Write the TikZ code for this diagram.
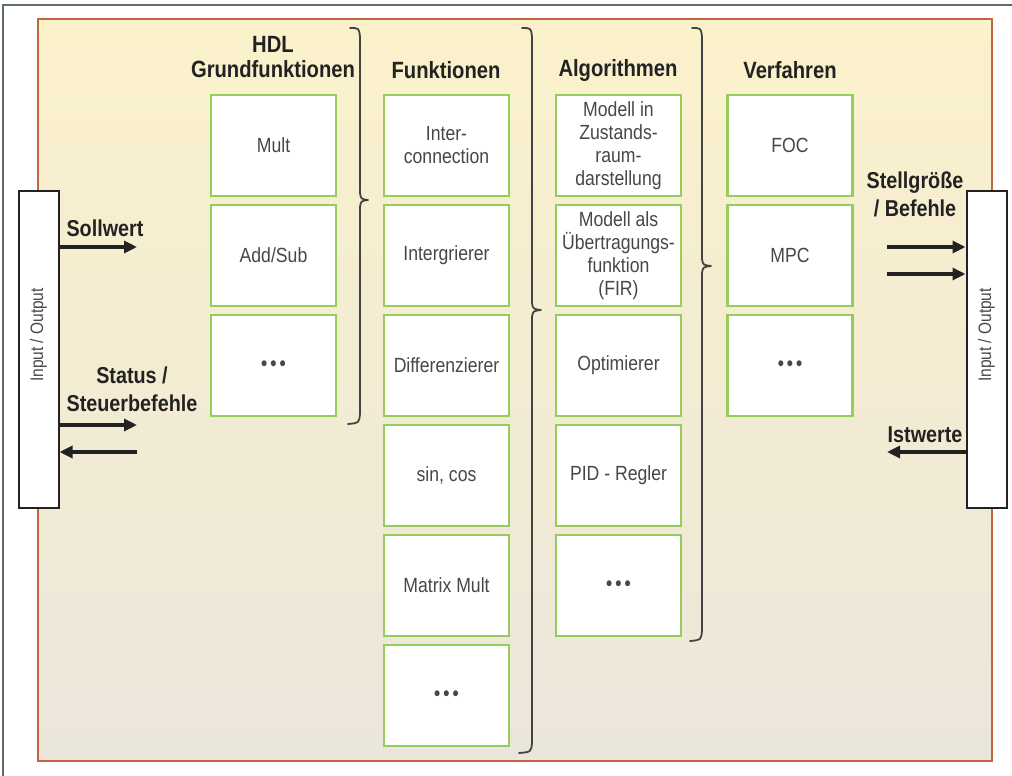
\documentclass[tikz,border=0pt]{standalone}
\usepackage{fontspec}
\setmainfont{Liberation Sans}
\newfontfamily\narrowsans[FakeStretch=0.86]{Liberation Sans}
\usetikzlibrary{arrows.meta}
\definecolor{framered}{HTML}{C2643E}
\definecolor{boxgreen}{HTML}{96CC5C}
\definecolor{bgtop}{HTML}{FBF1CB}
\definecolor{bgbottom}{HTML}{EBE6DB}
\definecolor{edgegray}{HTML}{5E6C72}
\definecolor{ink}{HTML}{222222}
\definecolor{boxink}{HTML}{474747}
\tikzset{
  cell/.style={draw=boxgreen, line width=2.2pt, fill=white, minimum width=125pt,
    minimum height=101pt, inner sep=0pt, align=center, text=boxink,
    font=\narrowsans\fontsize{20.5}{23}\selectfont},
  heading/.style={align=center, text=ink, font=\narrowsans\fontsize{23.5}{25}\selectfont\bfseries},
  iobox/.style={draw=ink, line width=2pt, fill=white, minimum width=40pt,
    minimum height=317pt, inner sep=0pt},
  iotext/.style={rotate=90, text=boxink, font=\narrowsans\fontsize{18}{20}\selectfont},
  sig/.style={line width=3.2pt, draw=ink, -{Triangle[length=13pt,width=12pt]}},
  siglabel/.style={align=center, text=ink, font=\narrowsans\fontsize{23}{28}\selectfont\bfseries},
  bracket/.style={draw=ink!85, line width=1.8pt, line cap=round, line join=round}
}
\newcommand{\threedots}{\textbf{•\hspace{3pt}•\hspace{3pt}•}}
\begin{document}
\begin{tikzpicture}[x=1pt, y=-1pt]
  \useasboundingbox (0,0) rectangle (1012,776);
  \fill[white] (0,0) rectangle (1012,776);
  % outer thin edge lines
  \draw[edgegray, line width=1.5pt] (3,776) -- (3,5) -- (1012,5);
  % framed background
  \shade[top color=bgtop, bottom color=bgbottom] (38,19) rectangle (992,761);
  \draw[framered, line width=2.4pt] (38,19) rectangle (992,761);

  % column headings
  \node[heading] (hHDL) at (273,57) {HDL\\Grundfunktionen};
  \node[heading] (hFun) at (446,70) {Funktionen};
  \node[heading] (hAlg) at (618,70) {Algorithmen};
  \node[heading] (hVer) at (790,70) {Verfahren};

  % HDL basic functions
  \node[cell] (m1) at (273.5,145.5) {Mult};
  \node[cell] (m2) at (273.5,255.5) {Add/Sub};
  \node[cell] (m3) at (273.5,365.5) {\threedots};

  % functions
  \node[cell] (f1) at (446.5,145.5) {Inter-\\connection};
  \node[cell] (f2) at (446.5,255.5) {Intergrierer};
  \node[cell] (f3) at (446.5,365.5) {Differenzierer};
  \node[cell] (f4) at (446.5,475.5) {sin, cos};
  \node[cell] (f5) at (446.5,585.5) {Matrix Mult};
  \node[cell] (f6) at (446.5,695.5) {\threedots};

  % algorithms
  \node[cell] (a1) at (618.5,145.5) {Modell in\\Zustands-\\raum-\\darstellung};
  \node[cell] (a2) at (618.5,255.5) {Modell als\\Übertragungs-\\funktion\\(FIR)};
  \node[cell] (a3) at (618.5,365.5) {Optimierer};
  \node[cell] (a4) at (618.5,475.5) {PID - Regler};
  \node[cell] (a5) at (618.5,585.5) {\threedots};

  % methods
  \node[cell] (v1) at (790,145.5) {FOC};
  \node[cell] (v2) at (790,255.5) {MPC};
  \node[cell] (v3) at (790,365.5) {\threedots};

  % grouping braces
  \draw[bracket] (350,28) .. controls (359,28) .. (360,37) -- (360,193)
    .. controls (361,199) .. (368,200) .. controls (361,201) .. (360,207)
    -- (360,414) .. controls (359,423) .. (348,424);
  \draw[bracket] (522,28) .. controls (531,28) .. (532,37) -- (532,303)
    .. controls (533,309) .. (541,310) .. controls (533,311) .. (532,317)
    -- (532,743) .. controls (531,752) .. (519,753);
  \draw[bracket] (692,28) .. controls (701,28) .. (702,37) -- (702,259)
    .. controls (703,265) .. (711,266) .. controls (703,267) .. (702,273)
    -- (702,631) .. controls (701,640) .. (690,641);

  % input / output blocks
  \node[iobox] (ioL) at (38.5,349) {};
  \node[iotext] at ([yshift=14pt]ioL.center) {Input / Output};
  \node[iobox] (ioR) at (986.5,349) {};
  \node[iotext] at ([yshift=14pt]ioR.center) {Input / Output};

  % left signals
  \coordinate (solE) at (137,247);
  \coordinate (stOut) at (137,425);
  \coordinate (stIn) at (137,452);
  \draw[sig] (ioL.east |- solE) -- (solE);
  \draw[sig] (ioL.east |- stOut) -- (stOut);
  \draw[sig] (stIn) -- (ioL.east |- stIn);
  \node[siglabel] (lSol) at (105,228) {Sollwert};
  \node[siglabel] (lSt) at (132,389) {Status /\\Steuerbefehle};

  % right signals
  \coordinate (sg1) at (887,247);
  \coordinate (sg2) at (887,274);
  \coordinate (ist) at (887,452);
  \draw[sig] (sg1) -- (ioR.west |- sg1);
  \draw[sig] (sg2) -- (ioR.west |- sg2);
  \draw[sig] (ioR.west |- ist) -- (ist);
  \node[siglabel] (lSg) at (915,194) {Stellgröße\\/ Befehle};
  \node[siglabel, anchor=east] (lIst) at (966,435) {Istwerte};
\end{tikzpicture}
\end{document}
